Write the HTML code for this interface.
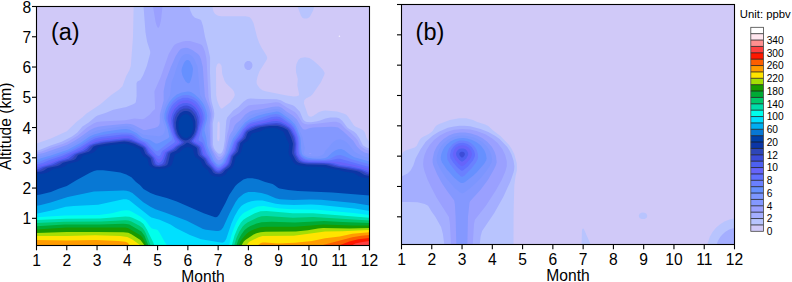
<!DOCTYPE html>
<html><head><meta charset="utf-8"><style>
html,body{margin:0;padding:0;background:#fff;width:792px;height:282px;overflow:hidden}
svg{display:block}
text{font-family:"Liberation Sans",sans-serif;fill:#000}
.t{font-size:15.6px}
.ya{font-size:15.6px}
.cb{font-size:10.2px}
.u{font-size:11.3px}
.p{font-size:23.5px}
</style></head><body><svg width="792" height="282" viewBox="0 0 792 282"><clipPath id="ca"><rect x="36.5" y="6.5" width="333.0" height="239.0"/></clipPath><g clip-path="url(#ca)" fill-rule="evenodd"><rect x="36.5" y="6.5" width="333.0" height="239.0" fill="#D0C9F8"/><path fill="#B8C4FE" d="M37.5 248.6L369.5 248.6L369.5 141.4L368.5 140.7L366.5 137.7L364.9 132.6L363.5 130.6L361.4 129.2L355.3 126.5L354.0 125.5L348.0 116.4L346.3 114.8L344.3 113.7L337.2 111.6L331.2 110.9L325.1 110.6L322.1 111.0L319.0 112.0L313.0 116.1L311.0 116.8L309.0 116.2L307.9 115.0L303.9 103.3L304.3 100.3L305.9 98.4L310.4 96.3L312.6 94.3L320.9 82.2L324.2 75.1L324.7 73.1L323.1 70.1L319.4 66.0L313.9 61.0L309.4 57.9L304.9 57.2L300.6 57.9L298.3 60.0L296.5 64.0L295.9 67.0L296.0 72.1L297.8 79.1L297.3 85.2L299.1 94.3L298.9 95.4L296.6 96.3L293.8 96.4L286.8 95.4L265.4 91.2L262.4 90.2L259.8 88.2L257.5 85.2L256.6 83.2L256.6 81.1L257.5 76.8L259.5 71.3L266.6 60.0L267.3 57.9L266.6 55.7L261.5 47.5L259.1 42.8L257.0 36.8L253.5 23.0L251.4 19.0L249.4 17.1L245.4 16.3L221.2 16.3L218.1 15.8L215.1 14.1L213.5 11.5L212.7 8.5L212.4 3.5L133.7 3.5L133.0 36.8L130.8 66.0L129.5 70.0L126.2 76.1L122.4 86.2L119.2 89.6L111.2 95.1L100.1 104.5L86.5 113.4L82.2 117.5L76.9 121.4L66.8 131.2L50.9 138.6L36.5 143.6L36.5 248.6L37.5 248.6ZM217.7 140.7L217.1 138.6L217.5 123.5L218.1 121.8L219.1 121.5L219.7 123.5L219.6 138.6L219.1 140.7L218.1 141.3L217.7 140.7ZM220.9 108.4L219.1 105.4L217.1 100.3L216.2 95.3L216.0 68.0L217.1 64.4L218.1 63.4L219.1 63.2L220.2 63.7L221.6 66.0L222.2 74.1L224.6 81.1L226.2 83.5L232.3 89.2L233.8 91.2L234.7 94.3L234.7 95.3L233.9 97.3L230.3 102.3L222.2 108.6L220.9 108.4ZM303.9 18.6L307.0 18.6L309.0 17.6L310.0 16.6L313.0 10.8L315.0 3.5L296.4 3.5L300.9 15.5L302.1 17.6L303.9 18.6Z"/><path fill="#A4AEFF" d="M37.5 248.6L369.5 248.6L369.5 148.4L366.5 147.6L363.5 145.7L362.6 144.7L359.4 138.2L356.4 133.8L353.8 131.6L349.3 129.1L347.3 127.6L342.3 120.8L339.2 118.2L336.2 117.4L330.4 117.5L325.4 118.5L320.1 120.6L316.0 121.6L311.0 122.2L306.9 122.0L304.9 121.2L303.1 119.5L299.9 111.8L294.8 106.5L292.8 105.2L285.7 102.9L280.7 100.2L276.7 99.2L261.5 99.1L250.4 98.4L247.4 99.0L243.4 101.7L238.3 107.1L233.2 110.4L227.2 117.5L226.3 120.5L224.7 140.7L223.4 148.7L222.2 152.0L221.2 153.3L220.2 153.8L218.1 153.4L215.1 150.2L213.8 147.7L213.0 144.7L212.8 123.5L214.1 116.4L214.3 113.4L213.7 109.4L211.5 101.3L211.0 97.3L210.0 73.1L210.1 57.4L208.0 47.9L205.0 36.8L203.0 25.9L201.2 20.6L200.0 19.4L194.9 17.8L192.6 15.6L190.3 10.5L188.6 3.5L143.3 3.5L145.5 32.5L147.1 41.8L150.1 50.9L150.3 52.9L146.8 66.0L143.2 75.1L140.4 80.1L137.4 81.6L136.5 83.2L136.6 96.3L135.8 102.3L134.9 103.3L133.1 104.3L126.3 107.1L113.2 109.7L106.1 112.8L97.6 115.4L95.8 116.4L88.7 122.5L82.4 126.5L77.4 132.6L72.0 136.6L61.7 141.8L50.6 145.6L39.5 150.1L36.5 150.8L36.5 248.6L37.5 248.6ZM247.4 70.1L249.4 70.1L250.4 69.5L251.8 68.0L252.4 66.3L252.4 64.6L251.9 63.0L251.1 62.0L249.4 60.9L247.4 60.9L246.4 61.4L245.4 62.2L244.4 64.0L244.2 66.0L244.9 68.0L245.7 69.0L247.4 70.1Z"/><path fill="#9AA0FF" d="M37.5 248.6L369.5 248.6L369.5 150.8L365.5 149.4L361.4 146.7L359.7 144.7L357.9 140.7L355.4 137.5L350.4 132.6L345.2 128.5L341.2 124.1L339.2 122.7L336.2 121.8L333.2 121.7L314.0 124.1L307.9 124.4L304.9 124.1L302.9 123.1L301.9 122.0L297.2 114.4L294.8 112.0L286.8 107.5L280.7 103.4L278.7 102.6L275.7 102.2L263.5 104.0L251.4 104.9L248.4 105.6L245.4 107.4L239.3 113.1L232.1 117.5L231.0 118.5L230.1 120.5L228.6 129.6L227.2 134.6L225.1 147.7L223.9 152.8L222.8 154.8L221.2 156.4L219.1 157.1L218.1 156.6L214.1 151.2L212.4 147.7L211.6 144.7L211.4 123.5L212.4 116.4L212.5 113.4L211.8 109.4L209.3 101.3L208.5 97.3L206.7 62.0L206.3 57.9L205.0 51.8L203.0 46.8L202.0 45.3L200.0 44.0L189.9 41.1L185.8 40.9L182.8 41.4L176.8 43.5L174.6 44.8L173.0 46.8L168.7 53.9L160.6 77.2L154.4 91.2L155.1 108.4L154.6 109.5L152.5 111.2L149.8 114.4L146.5 117.1L144.5 118.5L142.5 119.2L134.4 118.6L125.3 120.2L101.1 121.4L97.0 122.0L94.0 123.3L87.0 127.5L77.9 135.6L67.8 141.7L62.7 143.9L51.6 147.6L41.5 151.6L36.5 152.7L36.5 248.6L37.5 248.6ZM158.6 27.7L159.6 26.1L161.0 20.6L162.8 3.5L152.5 3.5L155.6 22.0L156.6 25.5L157.6 27.5L158.6 27.7Z"/><path fill="#8498FF" d="M37.5 248.6L369.5 248.6L369.5 153.8L364.5 152.5L360.4 150.1L357.1 146.7L353.2 140.7L343.4 131.6L338.2 127.6L335.2 127.0L331.2 126.8L312.8 127.5L309.0 128.2L305.9 129.4L303.9 129.4L302.9 128.9L300.9 126.6L296.9 119.5L292.7 115.4L286.8 111.8L281.7 107.7L278.7 106.5L275.7 106.4L271.6 106.9L262.5 109.1L252.4 110.6L249.4 111.8L245.3 114.4L240.3 120.3L236.2 123.5L234.6 125.5L232.7 130.6L230.6 133.6L229.2 136.5L225.1 153.8L223.2 157.0L221.2 159.2L219.1 160.3L218.1 160.2L216.1 158.1L212.1 150.2L210.4 145.7L209.6 125.5L210.7 116.4L210.7 113.4L209.2 107.4L204.9 96.3L202.8 67.0L201.0 59.2L199.6 55.9L198.0 53.9L192.3 49.9L187.9 48.0L185.8 47.8L182.8 48.2L180.8 49.1L178.9 50.9L175.7 55.9L170.8 67.0L165.6 81.1L163.6 91.2L163.7 100.3L159.9 114.4L159.7 123.5L158.8 125.5L157.6 126.8L154.6 128.0L145.5 129.9L143.5 129.9L133.4 124.8L130.3 123.9L126.3 123.7L105.1 125.7L98.1 126.8L94.0 128.1L90.0 129.9L78.9 138.0L72.8 141.8L66.8 145.0L43.6 153.1L36.5 154.6L36.5 248.6L37.5 248.6ZM309.0 153.8L310.0 152.8L311.7 153.8L309.0 153.8Z"/><path fill="#7C96FF" d="M37.5 248.6L369.5 248.6L369.5 157.9L364.4 156.8L356.0 152.8L353.6 150.7L349.3 145.2L346.3 142.1L343.3 140.2L340.2 139.3L338.2 139.5L336.2 140.1L332.3 142.7L328.3 147.7L325.3 150.7L324.0 153.8L322.1 155.3L318.0 156.4L313.0 156.5L307.9 156.0L305.0 154.8L304.0 153.8L303.8 152.8L304.9 147.7L303.9 145.0L302.6 137.6L298.5 127.5L296.0 122.5L292.8 119.0L284.9 113.4L281.5 110.4L279.7 109.4L276.7 109.0L273.6 109.3L255.5 113.4L250.4 115.3L247.4 117.2L238.7 126.5L236.3 130.6L231.8 136.6L230.1 140.7L226.4 153.8L223.2 159.5L221.4 161.8L220.2 162.7L218.1 162.9L217.1 162.3L214.9 159.8L208.9 145.7L208.3 136.6L207.2 128.5L207.4 125.5L208.9 117.5L208.8 113.4L207.9 109.4L206.3 105.3L204.0 101.0L200.8 96.3L200.0 94.3L197.7 68.0L197.3 66.0L194.2 59.0L191.9 56.1L189.9 54.7L187.9 54.0L184.8 54.2L181.8 56.2L179.5 60.0L176.1 69.0L174.1 76.1L171.6 82.1L170.1 95.3L165.0 105.3L163.2 110.4L162.4 114.4L162.3 117.5L162.8 120.5L164.7 126.5L165.0 129.6L164.4 132.6L162.6 134.9L160.6 135.9L158.6 136.2L143.5 134.7L140.4 133.1L133.4 128.2L130.3 126.9L127.3 126.3L121.3 126.5L103.1 129.2L97.0 130.5L92.0 132.5L88.0 134.8L76.2 142.7L65.8 148.1L43.6 155.4L36.5 156.9L36.5 248.6L37.5 248.6Z"/><path fill="#6690FF" d="M37.5 248.6L369.5 248.6L369.5 161.5L354.4 157.3L350.1 154.8L344.3 150.2L341.2 149.0L338.2 149.2L335.2 150.4L332.2 152.5L327.7 156.8L326.0 157.8L324.1 158.3L320.1 158.8L313.0 158.6L307.9 157.8L304.9 156.6L302.9 155.2L301.9 153.8L301.1 148.7L301.0 142.7L300.4 137.6L297.1 128.5L295.0 124.5L290.8 120.1L280.7 112.7L278.7 111.7L276.7 111.4L266.0 113.4L257.5 115.8L250.4 118.8L245.4 122.3L241.7 126.5L233.0 138.6L230.5 144.7L227.9 152.8L223.3 161.8L221.2 163.9L219.1 164.8L218.1 164.8L216.1 163.5L213.8 160.8L209.2 150.7L207.3 145.7L206.2 137.6L204.4 130.6L205.0 126.5L206.9 119.5L207.2 115.4L206.2 110.4L204.1 105.3L202.0 101.8L199.0 98.2L194.9 94.6L191.9 92.6L189.9 91.7L187.9 91.4L181.8 92.5L176.8 94.6L172.7 97.9L169.1 102.3L166.4 107.4L164.5 113.4L164.3 118.5L167.7 129.2L169.3 136.6L168.9 137.6L167.8 138.6L159.6 142.7L157.6 143.4L155.6 143.4L149.5 139.7L142.5 137.9L136.4 133.1L129.3 129.5L126.3 128.9L121.3 129.2L104.1 131.8L94.0 134.5L90.0 136.3L80.6 142.7L67.8 149.8L50.0 155.8L36.5 159.5L36.5 248.6L37.5 248.6ZM187.9 83.3L188.9 83.3L189.9 82.4L190.9 80.0L192.3 75.1L193.0 69.0L192.3 66.0L189.9 61.3L188.1 60.0L186.9 59.9L185.3 61.0L183.8 63.3L181.9 68.0L181.5 71.1L182.3 75.1L183.6 78.1L185.8 81.7L187.9 83.3Z"/><path fill="#6A80FF" d="M37.5 248.6L369.5 248.6L369.5 164.3L351.3 159.3L343.3 155.8L340.2 155.0L336.2 155.5L329.9 158.8L324.6 159.8L311.0 159.6L306.9 159.0L304.9 158.2L301.9 156.1L300.4 153.8L299.7 149.7L299.7 142.7L299.1 137.6L297.3 132.6L294.4 126.5L291.8 123.4L282.7 116.5L278.7 114.4L275.7 114.1L270.6 114.8L265.6 116.2L250.4 121.2L246.4 123.6L242.2 128.5L233.6 140.7L229.5 151.7L224.2 162.8L220.2 166.0L218.1 166.5L217.1 166.1L212.3 160.8L208.7 153.8L206.3 147.7L204.3 140.7L202.0 135.6L202.3 130.6L204.9 121.5L205.5 117.5L204.8 112.4L202.9 107.4L199.0 101.5L196.8 99.3L193.9 97.2L190.9 95.8L187.9 95.0L184.8 94.9L181.8 95.4L176.8 97.7L172.7 101.3L168.7 107.2L166.4 113.4L166.0 117.5L166.4 120.5L171.6 136.6L172.0 138.6L171.7 140.2L157.6 151.2L155.6 150.7L153.6 149.0L147.5 142.2L140.4 139.1L136.3 135.6L133.4 133.8L130.3 132.9L126.3 132.4L116.2 132.8L100.1 135.2L94.0 136.7L90.0 138.7L78.9 146.1L70.1 150.7L56.5 155.8L44.2 159.8L39.5 161.8L36.5 162.5L36.5 248.6L37.5 248.6Z"/><path fill="#6070FF" d="M37.5 248.6L369.5 248.6L369.5 166.8L366.5 166.3L340.2 158.7L337.2 158.8L329.1 160.5L321.1 160.8L309.0 160.4L305.7 159.8L303.4 158.8L300.9 156.8L299.1 153.8L298.5 148.7L298.6 142.7L297.9 137.6L296.8 134.3L293.8 128.1L290.8 124.5L282.7 118.7L279.7 117.0L276.7 116.4L271.6 117.1L264.2 119.5L253.5 122.0L250.4 123.1L247.4 124.9L243.0 129.6L240.3 134.0L234.5 141.7L231.1 150.7L228.4 155.8L225.5 162.8L223.2 165.2L220.2 167.4L218.1 167.8L217.1 167.5L215.1 165.9L211.7 161.8L209.1 156.9L206.8 153.8L203.0 143.6L202.0 142.3L199.0 140.7L198.5 139.6L203.7 119.5L203.4 114.4L201.7 109.4L198.0 103.7L195.6 101.3L192.9 99.5L187.9 97.7L182.8 97.8L177.8 99.9L173.7 103.4L171.7 106.0L169.8 109.4L167.9 115.4L167.7 118.5L168.4 122.5L171.5 132.6L174.8 140.7L174.9 141.7L174.1 142.7L162.5 150.7L161.1 152.8L160.5 154.8L159.6 155.8L158.6 156.1L156.6 155.3L145.0 142.7L138.4 139.6L133.4 136.0L131.4 135.1L128.3 134.4L122.3 134.5L101.1 137.1L95.0 138.5L91.0 140.4L79.9 147.5L71.5 151.7L61.7 155.9L49.6 160.1L43.1 162.8L36.5 164.6L36.5 248.6L37.5 248.6Z"/><path fill="#6664FA" d="M37.5 248.6L369.5 248.6L369.5 169.0L354.4 165.1L338.8 161.8L310.0 161.4L305.9 160.9L302.8 159.8L300.3 157.8L298.3 154.8L297.7 151.7L297.7 143.7L296.9 137.6L295.8 134.6L292.8 128.8L289.8 125.5L286.8 123.3L280.7 119.7L276.7 118.7L273.6 119.0L254.5 123.4L250.4 124.8L247.4 126.8L244.4 129.7L240.3 136.3L235.7 141.7L232.4 150.7L229.2 155.8L227.2 161.8L226.2 163.6L221.2 167.9L219.1 168.9L217.1 168.7L215.1 167.3L210.4 161.8L208.3 157.8L205.0 154.0L202.7 146.7L201.4 144.7L200.0 143.4L196.1 141.7L195.5 140.7L198.7 133.6L201.9 121.5L201.9 116.4L199.9 110.4L196.5 105.3L191.9 101.7L187.9 100.3L182.8 100.5L179.8 101.6L177.8 102.9L174.1 106.4L171.1 111.4L169.6 116.4L169.6 121.5L172.0 130.6L174.3 136.6L177.3 141.7L177.3 142.7L170.5 147.7L163.9 151.7L161.8 156.8L159.6 159.2L158.6 159.4L157.6 158.9L150.9 151.7L147.4 146.7L143.5 143.3L137.5 140.7L131.4 137.2L128.3 136.3L125.3 136.2L102.1 138.8L96.0 140.1L87.0 144.6L79.9 149.3L63.7 157.0L45.3 163.9L36.5 166.2L36.5 248.6L37.5 248.6Z"/><path fill="#4D60F0" d="M37.5 248.6L369.5 248.6L369.5 171.0L360.4 168.4L350.3 166.2L340.5 164.9L333.2 163.0L326.1 162.4L309.0 162.1L304.9 161.6L301.9 160.6L299.7 158.8L297.1 154.8L296.5 150.7L296.8 143.7L296.1 138.6L295.1 135.6L291.9 129.6L289.8 127.2L285.7 124.3L280.7 121.8L276.7 120.9L272.6 121.3L254.5 124.9L250.4 126.4L246.4 129.1L244.2 131.6L241.3 137.1L237.3 141.2L236.3 142.7L233.7 150.7L230.1 155.8L228.3 161.8L227.3 163.9L224.1 166.9L220.2 169.7L218.1 170.2L217.1 170.0L215.1 168.6L210.1 163.0L207.0 157.9L203.7 154.8L202.7 152.8L201.6 147.7L200.4 145.7L193.9 141.7L193.6 140.7L196.2 136.6L197.9 132.6L200.3 122.5L200.4 119.5L200.1 116.4L198.2 111.4L194.9 107.0L190.9 104.0L186.9 102.9L182.8 103.2L178.8 105.1L174.7 109.1L172.4 113.4L171.1 118.5L171.4 123.5L173.6 132.6L175.8 137.2L179.3 141.7L179.6 142.7L171.8 148.7L165.7 152.1L165.1 152.8L162.6 159.4L161.0 161.8L159.6 162.8L158.3 162.8L156.9 161.8L154.8 157.8L149.5 152.2L146.9 147.7L142.5 144.1L139.9 142.7L131.4 139.0L128.3 138.3L124.3 138.2L103.1 140.4L96.0 141.9L89.1 144.7L82.3 149.7L72.6 153.8L65.8 158.1L55.7 161.4L49.9 163.9L36.5 167.7L36.5 248.6L37.5 248.6Z"/><path fill="#3C4CD8" d="M37.5 248.6L369.5 248.6L369.5 172.9L360.4 169.6L348.3 167.2L338.9 165.9L330.1 163.6L324.1 163.1L307.9 162.8L303.9 162.3L300.9 161.3L298.9 159.8L295.9 154.8L295.4 151.7L295.8 143.7L295.1 139.6L294.3 136.6L290.8 130.0L288.8 127.8L284.7 125.3L280.7 123.6L276.7 122.9L267.6 123.8L256.5 125.7L251.4 127.5L246.4 130.5L244.9 132.6L242.5 137.6L237.5 142.7L235.1 150.7L231.1 155.8L229.2 162.3L228.2 164.3L226.2 166.4L220.2 171.1L219.1 171.5L217.1 171.5L215.1 170.2L208.5 162.8L206.0 158.4L201.9 154.8L200.1 147.7L199.5 146.7L198.0 145.4L193.9 143.2L192.1 141.7L192.0 140.7L194.3 137.6L196.0 134.6L197.7 129.6L198.8 122.5L198.4 117.5L196.4 112.4L192.9 108.3L188.9 106.0L186.9 105.5L183.8 105.7L179.8 107.4L176.5 110.4L173.7 115.3L172.6 120.5L173.2 126.5L175.1 133.6L177.2 137.6L181.3 141.7L181.7 142.7L180.9 143.7L176.0 146.7L173.7 148.9L168.1 151.7L166.9 152.8L163.8 161.8L162.6 163.6L161.6 164.3L158.6 165.0L157.6 164.9L155.7 163.9L153.4 157.8L148.3 152.8L145.7 147.7L144.5 146.6L139.4 143.5L131.4 140.3L128.3 139.6L124.3 139.4L102.1 141.9L93.0 144.2L89.6 145.7L86.6 148.7L83.7 150.7L74.8 153.9L68.6 158.8L58.7 161.6L52.6 164.4L43.0 166.9L38.5 169.0L36.5 169.5L36.5 248.6L37.5 248.6Z"/><path fill="#2E46B8" d="M37.5 248.6L369.5 248.6L369.5 174.5L366.5 173.8L362.4 171.5L359.4 170.4L346.3 167.9L336.2 166.4L328.1 164.3L323.1 163.8L306.9 163.5L302.9 162.9L299.4 161.8L297.3 159.8L294.5 154.8L294.0 152.8L294.6 144.7L294.4 142.7L292.8 136.6L289.7 130.6L287.7 128.5L283.7 126.3L279.7 124.9L275.7 124.5L266.6 125.2L258.5 126.4L254.7 127.5L247.4 131.1L246.1 132.6L244.7 136.6L243.4 138.6L238.8 142.7L236.6 150.7L235.4 152.8L232.3 155.8L231.7 156.8L230.3 162.8L229.2 164.9L221.2 172.0L219.1 172.9L216.1 172.6L214.1 171.0L211.9 167.9L207.7 163.9L204.9 158.8L200.1 154.8L198.9 148.7L198.0 146.9L192.9 143.9L190.2 141.7L190.1 140.7L193.7 136.6L196.0 131.6L197.2 125.5L197.0 119.5L195.2 114.4L191.9 110.5L189.9 109.2L187.9 108.4L183.8 108.4L179.8 110.3L176.9 113.4L175.0 117.5L174.2 122.5L174.8 128.5L176.7 134.6L178.8 137.9L180.6 139.6L183.7 141.7L183.8 142.7L181.8 144.5L177.9 146.7L174.9 149.7L168.8 152.8L168.1 153.8L165.7 162.8L165.2 163.9L163.6 165.1L161.6 165.7L158.6 166.0L156.6 165.8L154.6 164.9L153.6 163.3L152.0 157.8L147.4 153.8L144.3 147.7L136.4 143.3L129.3 140.9L124.3 140.5L105.1 142.6L94.0 144.8L91.0 146.4L87.0 150.7L84.9 151.7L77.7 153.8L75.8 154.8L72.8 158.2L70.8 159.6L61.6 161.8L55.6 164.9L45.6 167.3L43.8 167.9L39.5 170.4L36.5 171.0L36.5 248.6L37.5 248.6Z"/><path fill="#0C36A6" d="M37.5 248.6L369.5 248.6L369.5 176.0L364.5 175.0L359.5 171.9L356.4 171.0L334.2 167.2L325.8 164.9L306.9 164.5L300.9 163.6L297.9 162.6L295.9 160.8L292.2 153.8L292.1 151.7L293.0 143.7L291.1 137.6L287.8 130.6L286.7 129.6L282.9 127.5L277.7 126.1L269.6 126.1L260.5 127.2L250.4 130.9L248.4 132.0L247.4 133.5L245.5 138.6L240.3 142.9L238.0 151.7L233.1 156.8L231.8 162.8L230.4 165.9L228.3 167.9L225.2 169.9L222.7 172.9L221.2 173.8L219.1 174.3L215.5 173.9L213.1 172.4L211.1 168.9L206.0 164.3L203.8 159.8L198.7 155.8L197.7 153.8L197.1 148.7L196.6 147.7L195.4 146.7L187.9 142.7L186.9 142.8L183.8 145.0L180.4 146.7L176.1 150.7L171.4 152.8L170.3 153.8L168.2 162.8L167.2 164.9L164.7 166.3L159.6 167.0L155.6 166.7L153.6 166.0L152.5 165.1L151.9 163.9L150.5 158.2L145.3 153.8L143.3 148.7L142.5 147.7L134.4 143.7L128.3 141.9L124.3 141.6L107.1 143.4L96.0 145.4L93.2 146.7L91.0 150.0L88.9 151.7L78.7 154.8L77.6 155.8L75.7 158.8L73.8 160.1L62.8 162.8L59.9 164.9L57.6 165.9L47.7 167.9L43.6 170.7L41.5 171.5L36.5 172.3L36.5 248.6L37.5 248.6ZM183.8 140.0L185.8 140.4L187.9 140.1L191.2 137.6L193.9 133.4L194.9 130.3L195.5 126.5L195.4 121.5L193.8 116.4L190.9 112.8L188.9 111.5L186.9 110.9L184.8 110.9L182.8 111.4L179.8 113.5L177.2 117.5L175.9 122.5L176.2 128.5L177.8 133.8L180.2 137.6L181.8 139.0L183.8 140.0Z"/><path fill="#0040A8" d="M37.5 248.6L369.5 248.6L369.5 178.4L363.4 177.6L359.4 176.5L353.5 172.9L344.3 171.4L338.8 169.9L329.1 168.5L323.7 166.9L305.9 166.5L298.9 165.5L295.8 164.5L293.7 162.8L289.0 154.8L288.5 151.7L289.1 145.7L288.9 143.7L283.7 132.3L282.7 131.3L277.2 128.5L274.6 128.1L270.6 127.9L265.3 128.5L260.5 131.3L251.8 133.6L248.8 139.6L247.4 141.1L243.3 143.7L241.1 151.7L240.0 153.8L236.2 156.8L235.6 157.8L234.1 163.9L232.7 166.9L231.3 168.5L227.7 170.9L225.2 174.7L222.2 176.3L220.2 176.8L215.1 176.6L212.1 175.5L210.1 174.0L207.8 169.9L204.0 167.2L202.8 165.9L200.6 160.8L195.3 156.8L194.2 154.8L192.9 149.5L191.9 148.3L189.9 147.5L187.9 147.1L184.8 147.8L183.1 148.7L179.8 152.3L176.2 153.8L174.8 154.8L172.1 163.9L170.8 165.9L169.7 166.7L164.7 168.4L158.6 168.9L154.6 168.5L150.5 166.7L149.1 164.9L147.5 158.8L143.5 156.2L142.2 154.8L139.4 149.1L132.5 145.7L125.3 143.8L123.1 143.7L113.3 144.7L100.1 146.7L97.9 147.7L95.6 150.7L93.0 152.8L82.8 155.8L80.0 159.8L77.9 161.3L67.6 163.9L64.8 166.2L61.7 167.5L53.3 168.9L47.6 172.6L43.6 173.6L36.5 174.5L36.5 248.6L37.5 248.6ZM183.8 137.7L186.9 138.0L187.9 137.6L189.9 136.0L192.0 132.6L193.2 127.5L193.0 122.5L191.6 118.5L188.9 115.2L187.4 114.4L185.8 114.1L184.1 114.4L182.8 115.1L180.8 117.1L179.0 120.5L178.3 124.5L178.6 129.6L179.8 133.3L181.8 136.2L183.8 137.7Z"/><path fill="#0878D4" d="M37.5 248.6L369.5 248.6L369.5 195.5L332.2 192.5L297.9 191.0L288.2 190.1L279.7 188.6L278.3 188.1L274.6 185.2L272.6 184.1L265.1 182.0L258.5 179.5L252.4 178.3L247.4 178.2L243.4 179.5L237.3 183.9L235.3 185.9L229.2 195.1L225.3 203.2L219.1 214.7L217.1 217.0L215.1 217.2L203.7 213.3L176.8 201.6L166.7 197.9L155.6 195.1L150.5 193.1L143.5 188.9L139.9 185.0L136.0 182.0L131.4 177.2L126.3 174.5L120.3 172.6L113.2 171.4L103.1 170.2L97.0 170.3L94.0 171.0L90.0 172.7L75.9 180.4L66.8 186.0L58.7 188.7L50.9 192.1L40.5 194.6L36.5 195.2L36.5 248.6L37.5 248.6Z"/><path fill="#00AEF2" d="M37.5 248.6L369.5 248.6L369.5 205.5L354.4 203.0L321.1 199.8L310.0 199.4L292.8 199.9L279.7 199.2L275.7 198.3L267.6 194.7L261.5 192.9L254.5 191.9L248.4 192.1L245.4 192.9L243.4 193.9L238.3 198.2L235.5 202.2L229.6 213.3L223.1 227.4L221.5 229.4L220.2 230.5L218.1 231.1L216.1 231.1L206.0 229.8L203.0 229.0L186.9 220.7L165.7 212.7L155.4 209.2L150.5 206.8L143.3 202.2L132.4 193.0L129.3 191.4L126.3 190.7L123.3 190.5L94.0 191.5L67.8 196.9L50.6 202.5L39.9 205.2L36.5 205.7L36.5 248.6L37.5 248.6Z"/><path fill="#00E0FF" d="M37.5 248.6L369.5 248.6L369.5 211.1L354.4 208.4L320.1 205.0L311.0 204.5L293.8 204.9L281.7 204.4L275.7 203.8L262.5 200.6L257.5 200.4L251.4 201.2L247.4 202.4L243.8 204.2L241.3 206.1L238.3 209.7L234.6 216.3L231.4 223.4L226.2 239.1L224.2 242.1L222.2 242.7L201.0 239.2L189.9 235.1L175.8 227.9L170.5 224.4L159.6 219.8L151.5 217.4L149.5 216.2L129.3 200.3L126.3 199.2L123.3 199.3L98.1 204.7L73.8 206.0L65.8 206.8L52.6 210.3L36.5 213.8L36.5 248.6L37.5 248.6Z"/><path fill="#00FFEC" d="M37.5 248.6L169.4 248.6L165.0 242.5L159.6 232.7L157.6 230.1L156.2 229.4L153.6 229.0L151.5 228.2L149.5 226.1L145.5 220.4L140.4 216.6L131.4 211.5L129.3 210.6L126.3 210.2L121.3 210.8L112.0 213.3L99.1 215.1L64.8 215.4L36.5 217.3L36.5 248.6L37.5 248.6ZM226.2 248.6L369.5 248.6L369.5 214.9L353.4 212.9L317.0 209.7L290.8 209.3L277.7 208.2L263.5 206.0L257.5 206.6L252.9 208.2L244.4 212.6L242.4 214.1L239.3 217.4L236.4 222.4L233.8 228.4L231.4 235.5L229.2 244.2L226.2 248.6Z"/><path fill="#00DDAA" d="M37.5 248.6L155.4 248.6L153.3 242.5L146.9 229.4L143.5 223.9L140.4 221.6L132.4 217.8L129.3 216.8L125.3 216.4L100.1 218.6L65.8 218.7L36.5 220.1L36.5 248.6L37.5 248.6ZM231.3 248.6L369.5 248.6L369.5 217.8L313.0 213.3L292.8 213.2L266.6 210.9L260.5 211.3L254.8 213.3L246.4 217.8L243.4 219.8L240.9 222.4L237.9 227.4L234.5 235.5L232.0 244.5L230.5 248.6L231.3 248.6Z"/><path fill="#00C86C" d="M37.5 248.6L151.5 248.6L150.3 244.5L145.9 233.5L144.5 230.7L142.5 228.1L139.4 225.8L131.4 221.6L128.3 220.6L125.3 220.3L101.1 221.5L64.8 221.7L36.5 222.9L36.5 248.6L37.5 248.6ZM234.3 248.6L369.5 248.6L369.5 220.4L313.0 217.1L292.8 217.7L266.6 215.9L261.5 216.2L257.5 217.5L247.4 222.6L244.7 224.4L242.7 226.4L239.4 231.4L236.2 238.5L233.7 247.6L233.6 248.6L234.3 248.6Z"/><path fill="#00AA34" d="M37.5 248.6L149.0 248.6L148.0 244.5L144.5 235.7L141.4 231.5L129.3 224.6L126.3 223.9L123.3 223.8L100.1 224.4L64.8 224.5L36.5 226.3L36.5 248.6L37.5 248.6ZM236.3 248.6L369.5 248.6L369.5 223.1L342.3 222.0L324.1 220.9L294.8 222.4L271.6 221.8L261.5 222.2L256.5 223.5L250.4 226.0L247.4 227.7L244.4 230.3L241.3 234.5L238.3 239.9L236.4 245.6L236.0 248.6L236.3 248.6Z"/><path fill="#189A00" d="M37.5 248.6L146.9 248.6L145.5 243.2L142.5 237.4L140.4 235.2L128.3 228.2L125.3 227.6L121.3 227.5L66.8 227.6L36.5 229.5L36.5 248.6L37.5 248.6ZM239.3 248.6L369.5 248.6L369.5 225.6L352.3 225.5L323.1 224.4L294.8 226.8L266.6 226.8L260.5 227.3L256.5 228.4L251.4 230.5L248.4 232.3L246.4 234.0L242.4 238.5L240.3 241.6L238.5 246.6L238.3 248.6L239.3 248.6Z"/><path fill="#A6DE04" d="M37.5 248.6L144.9 248.6L143.9 244.5L140.4 240.1L131.4 234.3L128.3 232.8L123.3 232.2L96.0 232.0L66.8 232.1L36.5 233.0L36.5 248.6L37.5 248.6ZM241.3 248.6L369.5 248.6L369.5 227.9L349.3 228.5L323.1 228.0L318.0 228.5L307.9 230.3L295.8 231.6L265.6 231.8L260.5 232.2L256.5 233.2L253.6 234.5L245.4 240.0L243.8 241.5L242.0 244.5L241.3 246.6L241.1 248.6L241.3 248.6Z"/><path fill="#FFE400" d="M37.5 248.6L141.7 248.6L141.2 246.6L139.4 244.6L132.3 239.5L127.3 236.9L120.3 236.1L95.0 235.3L66.8 236.0L36.5 236.1L36.5 248.6L37.5 248.6ZM245.4 248.6L369.5 248.6L369.5 230.0L342.3 231.3L325.1 231.4L293.8 235.8L262.5 236.0L258.5 237.2L249.7 241.5L248.5 242.5L246.4 245.6L245.4 248.6Z"/><path fill="#FF9C00" d="M37.5 248.6L131.5 248.6L128.3 243.5L127.3 242.5L125.3 241.7L118.2 240.9L96.0 240.0L66.8 240.6L36.5 240.1L36.5 248.6L37.5 248.6ZM255.5 248.6L369.5 248.6L369.5 232.2L352.3 233.8L339.7 236.5L325.1 238.3L312.0 240.9L294.8 242.8L277.7 243.5L265.6 242.4L262.5 242.5L260.5 243.2L258.5 244.7L255.7 247.6L255.1 248.6L255.5 248.6Z"/><path fill="#FC5E00" d="M37.5 248.6L118.1 248.6L115.5 246.6L113.2 245.9L102.1 245.0L36.5 244.9L36.5 248.6L37.5 248.6ZM307.9 248.6L369.5 248.6L369.5 234.9L361.4 235.7L352.3 237.2L322.1 245.2L310.7 246.6L308.5 247.6L307.6 248.6L307.9 248.6Z"/><path fill="#FF1800" d="M336.2 248.6L369.5 248.6L369.5 237.9L358.4 239.3L349.3 241.5L338.9 245.6L336.4 247.6L335.7 248.6L336.2 248.6Z"/><path fill="#FF4040" d="M348.3 248.6L369.5 248.6L369.5 241.1L362.4 241.9L355.2 243.5L349.8 246.6L347.8 248.6L348.3 248.6Z"/><path fill="#FF9090" d="M361.4 248.6L369.5 248.6L369.5 244.9L367.5 245.2L364.5 246.3L361.9 247.6L360.7 248.6L361.4 248.6Z"/></g><clipPath id="cb"><rect x="401.5" y="4.5" width="333.0" height="240.0"/></clipPath><g clip-path="url(#cb)" fill-rule="evenodd"><rect x="401.5" y="4.5" width="333.0" height="240.0" fill="#D0C9F8"/><path fill="#B8C4FE" d="M402.5 247.1L513.5 247.1L513.6 212.8L514.3 185.5L515.5 176.4L516.9 170.3L516.8 163.2L514.2 154.1L511.7 149.1L509.1 145.0L500.4 135.9L492.5 129.9L488.3 126.1L485.3 124.5L477.2 122.0L473.1 120.0L466.1 118.3L459.0 118.2L449.9 120.1L439.8 123.7L436.8 125.3L435.2 126.8L432.6 130.9L431.5 131.9L428.8 133.9L422.7 136.9L420.7 138.6L419.0 141.0L416.6 146.1L414.6 147.4L405.5 150.5L403.2 152.1L401.5 154.8L401.5 247.1L402.5 247.1ZM582.1 247.1L591.8 247.1L584.1 229.6L583.1 228.3L582.1 229.4L581.9 232.0L581.5 247.1L582.1 247.1ZM707.3 247.1L734.5 247.1L734.5 218.3L729.5 219.4L724.4 221.5L719.4 224.7L715.8 227.9L712.5 232.0L709.7 237.0L707.7 243.1L707.3 247.1ZM641.7 219.1L644.7 219.1L646.7 217.8L647.3 215.8L646.4 213.8L644.7 212.7L642.7 212.5L641.3 212.8L639.6 213.8L638.8 215.8L639.0 216.8L639.6 217.9L641.7 219.1Z"/><path fill="#A4AEFF" d="M444.9 247.1L479.4 247.1L480.7 236.0L482.1 231.0L494.3 213.1L503.4 196.7L510.5 181.2L513.5 172.4L514.2 169.3L514.4 166.3L513.5 160.5L511.5 154.4L509.5 150.4L507.3 147.1L499.6 139.0L495.4 135.9L488.3 131.9L480.6 128.9L470.1 126.3L464.1 125.8L459.6 125.8L454.0 126.4L447.9 127.8L438.8 131.7L432.8 135.6L425.7 141.7L420.7 149.0L415.7 158.2L413.4 165.2L410.8 170.3L407.6 173.4L401.5 176.5L401.5 202.1L409.6 201.9L417.6 202.3L424.7 203.9L428.1 205.7L431.7 211.8L435.3 216.8L441.1 226.9L442.9 234.1L444.6 247.1L444.9 247.1ZM716.3 247.1L734.5 247.1L734.5 227.9L730.4 228.9L728.3 230.0L725.1 232.0L722.4 234.5L720.4 236.8L718.4 240.1L717.3 242.5L716.3 247.1Z"/><path fill="#9AA0FF" d="M452.0 247.1L472.6 247.1L474.0 223.9L474.9 219.8L485.9 205.7L495.8 190.5L501.4 180.4L503.4 175.9L505.4 171.2L506.8 166.3L506.8 161.2L505.2 155.1L502.3 149.1L497.6 143.0L492.3 138.5L485.3 134.2L476.6 130.9L470.1 129.5L462.0 128.9L454.0 129.7L446.7 131.9L439.8 135.4L434.0 140.0L429.7 145.0L426.6 150.1L424.5 155.1L423.5 159.2L423.1 164.2L423.5 167.3L424.5 171.3L427.7 179.9L431.8 188.6L436.8 197.9L448.9 217.1L449.9 223.9L451.2 247.1L452.0 247.1Z"/><path fill="#8498FF" d="M457.0 247.1L467.3 247.1L468.0 216.8L469.5 202.7L470.1 201.3L480.8 189.5L488.2 179.4L494.0 169.3L495.9 165.2L496.7 162.2L496.0 156.1L494.7 152.1L492.0 147.1L487.3 141.8L482.2 138.0L477.2 135.5L471.1 133.5L465.1 132.6L460.0 132.6L454.0 133.6L448.9 135.5L443.5 139.0L439.8 142.4L436.5 147.1L434.1 152.1L432.6 159.2L432.6 162.2L433.3 165.2L437.1 174.3L442.1 183.4L447.5 191.5L454.2 200.6L454.9 204.7L455.6 216.8L456.4 247.1L457.0 247.1Z"/><path fill="#7C96FF" d="M462.0 193.6L464.1 192.8L469.1 189.1L475.2 183.8L481.3 177.4L486.2 171.3L489.3 166.7L491.6 162.2L492.0 159.2L491.3 155.1L489.3 150.1L486.4 146.0L482.2 142.1L477.2 139.0L473.1 137.3L467.1 135.9L462.0 135.5L457.0 136.0L452.0 137.6L447.5 140.0L443.9 143.0L440.9 146.6L438.4 151.1L436.9 156.1L436.6 160.2L437.3 163.2L439.2 167.3L442.8 173.3L446.4 178.4L455.0 188.2L460.0 192.5L462.0 193.6Z"/><path fill="#6690FF" d="M461.0 182.9L463.1 183.0L465.1 181.9L473.1 175.8L476.8 172.3L484.2 163.7L486.2 160.2L486.6 158.2L485.9 154.1L484.2 150.1L481.2 146.0L479.0 144.0L476.1 142.0L472.1 140.0L467.1 138.5L463.1 138.1L459.0 138.3L455.0 139.3L450.9 141.2L447.3 144.0L444.6 147.1L442.9 150.0L441.3 154.1L440.8 157.2L440.9 159.3L441.9 162.2L446.6 169.3L454.0 177.4L458.0 180.9L461.0 182.9Z"/><path fill="#6A80FF" d="M461.0 176.5L462.0 176.8L464.1 175.9L471.7 168.3L476.1 162.2L477.6 159.2L478.1 157.2L477.9 154.1L476.7 150.1L475.6 148.1L473.2 145.0L470.8 143.0L468.1 141.6L463.1 140.4L460.0 140.6L457.0 141.4L452.7 144.0L449.3 148.1L447.6 152.1L447.0 155.1L447.4 159.2L450.1 164.2L456.4 172.3L461.0 176.5Z"/><path fill="#6070FF" d="M461.0 170.5L462.0 170.8L463.1 170.6L468.2 166.3L473.1 160.3L475.0 156.1L475.0 154.1L474.2 151.1L471.7 147.1L467.7 144.0L463.1 142.7L460.0 142.9L458.0 143.4L456.0 144.4L454.0 146.0L451.1 150.1L449.9 155.1L450.5 158.2L453.0 162.2L457.0 167.0L461.0 170.5Z"/><path fill="#6664FA" d="M461.0 165.9L462.0 166.2L463.1 165.9L466.4 163.2L470.1 158.9L471.2 157.2L471.9 155.1L471.8 153.1L471.2 151.1L469.1 148.1L466.1 146.1L463.1 145.3L459.0 145.8L456.0 147.6L454.0 150.1L452.7 154.1L453.0 156.1L455.0 159.7L458.0 163.3L461.0 165.9Z"/><path fill="#4D60F0" d="M461.0 161.3L462.0 161.7L464.1 160.6L466.4 158.2L468.1 155.1L468.1 153.1L467.2 151.1L465.1 149.1L463.1 148.4L461.0 148.4L459.0 149.1L457.0 151.0L456.0 153.1L456.1 155.1L457.0 157.1L459.0 159.6L461.0 161.3Z"/><path fill="#3C4CD8" d="M461.0 157.2L462.0 157.5L463.1 157.2L464.8 155.1L464.7 153.1L463.1 151.7L461.0 151.7L459.4 153.1L459.3 155.1L461.0 157.2Z"/></g><rect x="36.5" y="6.5" width="333.0" height="239.0" fill="none" stroke="#000" stroke-width="1.1"/><line x1="32.0" y1="218.32" x2="36.5" y2="218.32" stroke="#000" stroke-width="1.1"/><text x="31.3" y="224.42" text-anchor="end" class="t">1</text><line x1="32.0" y1="188.06" x2="36.5" y2="188.06" stroke="#000" stroke-width="1.1"/><text x="31.3" y="194.16" text-anchor="end" class="t">2</text><line x1="32.0" y1="157.80" x2="36.5" y2="157.80" stroke="#000" stroke-width="1.1"/><text x="31.3" y="163.90" text-anchor="end" class="t">3</text><line x1="32.0" y1="127.54" x2="36.5" y2="127.54" stroke="#000" stroke-width="1.1"/><text x="31.3" y="133.64" text-anchor="end" class="t">4</text><line x1="32.0" y1="97.28" x2="36.5" y2="97.28" stroke="#000" stroke-width="1.1"/><text x="31.3" y="103.38" text-anchor="end" class="t">5</text><line x1="32.0" y1="67.02" x2="36.5" y2="67.02" stroke="#000" stroke-width="1.1"/><text x="31.3" y="73.12" text-anchor="end" class="t">6</text><line x1="32.0" y1="36.76" x2="36.5" y2="36.76" stroke="#000" stroke-width="1.1"/><text x="31.3" y="42.86" text-anchor="end" class="t">7</text><line x1="32.0" y1="6.50" x2="36.5" y2="6.50" stroke="#000" stroke-width="1.1"/><text x="31.3" y="12.60" text-anchor="end" class="t">8</text><line x1="36.50" y1="245.5" x2="36.50" y2="250.3" stroke="#000" stroke-width="1.1"/><text x="36.50" y="265.7" text-anchor="middle" class="t">1</text><line x1="66.77" y1="245.5" x2="66.77" y2="250.3" stroke="#000" stroke-width="1.1"/><text x="66.77" y="265.7" text-anchor="middle" class="t">2</text><line x1="97.05" y1="245.5" x2="97.05" y2="250.3" stroke="#000" stroke-width="1.1"/><text x="97.05" y="265.7" text-anchor="middle" class="t">3</text><line x1="127.32" y1="245.5" x2="127.32" y2="250.3" stroke="#000" stroke-width="1.1"/><text x="127.32" y="265.7" text-anchor="middle" class="t">4</text><line x1="157.59" y1="245.5" x2="157.59" y2="250.3" stroke="#000" stroke-width="1.1"/><text x="157.59" y="265.7" text-anchor="middle" class="t">5</text><line x1="187.86" y1="245.5" x2="187.86" y2="250.3" stroke="#000" stroke-width="1.1"/><text x="187.86" y="265.7" text-anchor="middle" class="t">6</text><line x1="218.14" y1="245.5" x2="218.14" y2="250.3" stroke="#000" stroke-width="1.1"/><text x="218.14" y="265.7" text-anchor="middle" class="t">7</text><line x1="248.41" y1="245.5" x2="248.41" y2="250.3" stroke="#000" stroke-width="1.1"/><text x="248.41" y="265.7" text-anchor="middle" class="t">8</text><line x1="278.68" y1="245.5" x2="278.68" y2="250.3" stroke="#000" stroke-width="1.1"/><text x="278.68" y="265.7" text-anchor="middle" class="t">9</text><line x1="308.95" y1="245.5" x2="308.95" y2="250.3" stroke="#000" stroke-width="1.1"/><text x="308.95" y="265.7" text-anchor="middle" class="t">10</text><line x1="339.23" y1="245.5" x2="339.23" y2="250.3" stroke="#000" stroke-width="1.1"/><text x="339.23" y="265.7" text-anchor="middle" class="t">11</text><line x1="369.50" y1="245.5" x2="369.50" y2="250.3" stroke="#000" stroke-width="1.1"/><text x="369.50" y="265.7" text-anchor="middle" class="t">12</text><text x="203.00" y="281.9" text-anchor="middle" class="t">Month</text><rect x="401.5" y="4.5" width="333.0" height="240.0" fill="none" stroke="#000" stroke-width="1.1"/><line x1="397.0" y1="216.81" x2="401.5" y2="216.81" stroke="#000" stroke-width="1.1"/><line x1="397.0" y1="186.48" x2="401.5" y2="186.48" stroke="#000" stroke-width="1.1"/><line x1="397.0" y1="156.15" x2="401.5" y2="156.15" stroke="#000" stroke-width="1.1"/><line x1="397.0" y1="125.82" x2="401.5" y2="125.82" stroke="#000" stroke-width="1.1"/><line x1="397.0" y1="95.49" x2="401.5" y2="95.49" stroke="#000" stroke-width="1.1"/><line x1="397.0" y1="65.16" x2="401.5" y2="65.16" stroke="#000" stroke-width="1.1"/><line x1="397.0" y1="34.83" x2="401.5" y2="34.83" stroke="#000" stroke-width="1.1"/><line x1="397.0" y1="4.50" x2="401.5" y2="4.50" stroke="#000" stroke-width="1.1"/><line x1="401.50" y1="244.5" x2="401.50" y2="249.3" stroke="#000" stroke-width="1.1"/><text x="401.50" y="264.7" text-anchor="middle" class="t">1</text><line x1="431.77" y1="244.5" x2="431.77" y2="249.3" stroke="#000" stroke-width="1.1"/><text x="431.77" y="264.7" text-anchor="middle" class="t">2</text><line x1="462.05" y1="244.5" x2="462.05" y2="249.3" stroke="#000" stroke-width="1.1"/><text x="462.05" y="264.7" text-anchor="middle" class="t">3</text><line x1="492.32" y1="244.5" x2="492.32" y2="249.3" stroke="#000" stroke-width="1.1"/><text x="492.32" y="264.7" text-anchor="middle" class="t">4</text><line x1="522.59" y1="244.5" x2="522.59" y2="249.3" stroke="#000" stroke-width="1.1"/><text x="522.59" y="264.7" text-anchor="middle" class="t">5</text><line x1="552.86" y1="244.5" x2="552.86" y2="249.3" stroke="#000" stroke-width="1.1"/><text x="552.86" y="264.7" text-anchor="middle" class="t">6</text><line x1="583.14" y1="244.5" x2="583.14" y2="249.3" stroke="#000" stroke-width="1.1"/><text x="583.14" y="264.7" text-anchor="middle" class="t">7</text><line x1="613.41" y1="244.5" x2="613.41" y2="249.3" stroke="#000" stroke-width="1.1"/><text x="613.41" y="264.7" text-anchor="middle" class="t">8</text><line x1="643.68" y1="244.5" x2="643.68" y2="249.3" stroke="#000" stroke-width="1.1"/><text x="643.68" y="264.7" text-anchor="middle" class="t">9</text><line x1="673.95" y1="244.5" x2="673.95" y2="249.3" stroke="#000" stroke-width="1.1"/><text x="673.95" y="264.7" text-anchor="middle" class="t">10</text><line x1="704.23" y1="244.5" x2="704.23" y2="249.3" stroke="#000" stroke-width="1.1"/><text x="704.23" y="264.7" text-anchor="middle" class="t">11</text><line x1="734.50" y1="244.5" x2="734.50" y2="249.3" stroke="#000" stroke-width="1.1"/><text x="734.50" y="264.7" text-anchor="middle" class="t">12</text><text x="568.00" y="280.9" text-anchor="middle" class="t">Month</text><rect x="750.8" y="224.93" width="12.6" height="6.375" fill="#D0C9F8"/><rect x="750.8" y="218.55" width="12.6" height="6.375" fill="#B8C4FE"/><rect x="750.8" y="212.18" width="12.6" height="6.375" fill="#A4AEFF"/><rect x="750.8" y="205.80" width="12.6" height="6.375" fill="#9AA0FF"/><rect x="750.8" y="199.43" width="12.6" height="6.375" fill="#8498FF"/><rect x="750.8" y="193.05" width="12.6" height="6.375" fill="#7C96FF"/><rect x="750.8" y="186.68" width="12.6" height="6.375" fill="#6690FF"/><rect x="750.8" y="180.30" width="12.6" height="6.375" fill="#6A80FF"/><rect x="750.8" y="173.93" width="12.6" height="6.375" fill="#6070FF"/><rect x="750.8" y="167.55" width="12.6" height="6.375" fill="#6664FA"/><rect x="750.8" y="161.18" width="12.6" height="6.375" fill="#4D60F0"/><rect x="750.8" y="154.80" width="12.6" height="6.375" fill="#3C4CD8"/><rect x="750.8" y="148.43" width="12.6" height="6.375" fill="#2E46B8"/><rect x="750.8" y="142.05" width="12.6" height="6.375" fill="#0C36A6"/><rect x="750.8" y="135.68" width="12.6" height="6.375" fill="#0040A8"/><rect x="750.8" y="129.30" width="12.6" height="6.375" fill="#0878D4"/><rect x="750.8" y="122.93" width="12.6" height="6.375" fill="#00AEF2"/><rect x="750.8" y="116.55" width="12.6" height="6.375" fill="#00E0FF"/><rect x="750.8" y="110.18" width="12.6" height="6.375" fill="#00FFEC"/><rect x="750.8" y="103.80" width="12.6" height="6.375" fill="#00DDAA"/><rect x="750.8" y="97.43" width="12.6" height="6.375" fill="#00C86C"/><rect x="750.8" y="91.05" width="12.6" height="6.375" fill="#00AA34"/><rect x="750.8" y="84.68" width="12.6" height="6.375" fill="#189A00"/><rect x="750.8" y="78.30" width="12.6" height="6.375" fill="#A6DE04"/><rect x="750.8" y="71.93" width="12.6" height="6.375" fill="#FFE400"/><rect x="750.8" y="65.55" width="12.6" height="6.375" fill="#FF9C00"/><rect x="750.8" y="59.18" width="12.6" height="6.375" fill="#FC5E00"/><rect x="750.8" y="52.80" width="12.6" height="6.375" fill="#FF1800"/><rect x="750.8" y="46.43" width="12.6" height="6.375" fill="#FF4040"/><rect x="750.8" y="40.05" width="12.6" height="6.375" fill="#FF9090"/><rect x="750.8" y="33.68" width="12.6" height="6.375" fill="#FFE6EE"/><rect x="750.8" y="27.30" width="12.6" height="6.375" fill="#FFFFFF"/><line x1="750.8" y1="224.93" x2="763.4" y2="224.93" stroke="#111" stroke-width="0.75"/><line x1="750.8" y1="218.55" x2="763.4" y2="218.55" stroke="#111" stroke-width="0.75"/><line x1="750.8" y1="212.18" x2="763.4" y2="212.18" stroke="#111" stroke-width="0.75"/><line x1="750.8" y1="205.80" x2="763.4" y2="205.80" stroke="#111" stroke-width="0.75"/><line x1="750.8" y1="199.43" x2="763.4" y2="199.43" stroke="#111" stroke-width="0.75"/><line x1="750.8" y1="193.05" x2="763.4" y2="193.05" stroke="#111" stroke-width="0.75"/><line x1="750.8" y1="186.68" x2="763.4" y2="186.68" stroke="#111" stroke-width="0.75"/><line x1="750.8" y1="180.30" x2="763.4" y2="180.30" stroke="#111" stroke-width="0.75"/><line x1="750.8" y1="173.93" x2="763.4" y2="173.93" stroke="#111" stroke-width="0.75"/><line x1="750.8" y1="167.55" x2="763.4" y2="167.55" stroke="#111" stroke-width="0.75"/><line x1="750.8" y1="161.18" x2="763.4" y2="161.18" stroke="#111" stroke-width="0.75"/><line x1="750.8" y1="154.80" x2="763.4" y2="154.80" stroke="#111" stroke-width="0.75"/><line x1="750.8" y1="148.43" x2="763.4" y2="148.43" stroke="#111" stroke-width="0.75"/><line x1="750.8" y1="142.05" x2="763.4" y2="142.05" stroke="#111" stroke-width="0.75"/><line x1="750.8" y1="135.68" x2="763.4" y2="135.68" stroke="#111" stroke-width="0.75"/><line x1="750.8" y1="129.30" x2="763.4" y2="129.30" stroke="#111" stroke-width="0.75"/><line x1="750.8" y1="122.93" x2="763.4" y2="122.93" stroke="#111" stroke-width="0.75"/><line x1="750.8" y1="116.55" x2="763.4" y2="116.55" stroke="#111" stroke-width="0.75"/><line x1="750.8" y1="110.18" x2="763.4" y2="110.18" stroke="#111" stroke-width="0.75"/><line x1="750.8" y1="103.80" x2="763.4" y2="103.80" stroke="#111" stroke-width="0.75"/><line x1="750.8" y1="97.43" x2="763.4" y2="97.43" stroke="#111" stroke-width="0.75"/><line x1="750.8" y1="91.05" x2="763.4" y2="91.05" stroke="#111" stroke-width="0.75"/><line x1="750.8" y1="84.68" x2="763.4" y2="84.68" stroke="#111" stroke-width="0.75"/><line x1="750.8" y1="78.30" x2="763.4" y2="78.30" stroke="#111" stroke-width="0.75"/><line x1="750.8" y1="71.93" x2="763.4" y2="71.93" stroke="#111" stroke-width="0.75"/><line x1="750.8" y1="65.55" x2="763.4" y2="65.55" stroke="#111" stroke-width="0.75"/><line x1="750.8" y1="59.18" x2="763.4" y2="59.18" stroke="#111" stroke-width="0.75"/><line x1="750.8" y1="52.80" x2="763.4" y2="52.80" stroke="#111" stroke-width="0.75"/><line x1="750.8" y1="46.43" x2="763.4" y2="46.43" stroke="#111" stroke-width="0.75"/><line x1="750.8" y1="40.05" x2="763.4" y2="40.05" stroke="#111" stroke-width="0.75"/><line x1="750.8" y1="33.68" x2="763.4" y2="33.68" stroke="#111" stroke-width="0.75"/><rect x="750.8" y="27.3" width="12.6" height="204.0" fill="none" stroke="#444" stroke-width="0.8"/><text x="766.7" y="235.00" class="cb">0</text><text x="766.7" y="222.25" class="cb">2</text><text x="766.7" y="209.50" class="cb">4</text><text x="766.7" y="196.75" class="cb">6</text><text x="766.7" y="184.00" class="cb">8</text><text x="766.7" y="171.25" class="cb">10</text><text x="766.7" y="158.50" class="cb">12</text><text x="766.7" y="145.75" class="cb">20</text><text x="766.7" y="133.00" class="cb">60</text><text x="766.7" y="120.25" class="cb">100</text><text x="766.7" y="107.50" class="cb">140</text><text x="766.7" y="94.75" class="cb">180</text><text x="766.7" y="82.00" class="cb">220</text><text x="766.7" y="69.25" class="cb">260</text><text x="766.7" y="56.50" class="cb">300</text><text x="766.7" y="43.75" class="cb">340</text><text x="739.8" y="18.2" class="u">Unit: ppbv</text><circle cx="339.4" cy="36.3" r="0.8" fill="#fff" fill-opacity="0.7"/><text x="50.9" y="40.1" class="p">(a)</text><text x="415.6" y="39.8" class="p">(b)</text><text transform="translate(11.3,170.1) rotate(-90)" class="ya">Altitude (km)</text></svg></body></html>
